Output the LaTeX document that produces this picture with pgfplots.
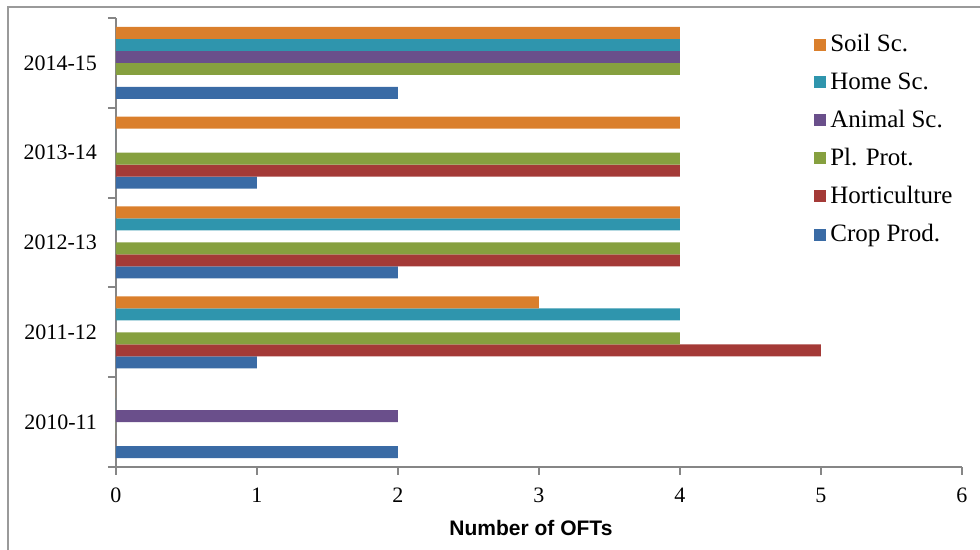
\documentclass[border=0pt]{standalone}
\usepackage{pgfplots}
\pgfplotsset{compat=1.18}
\usepackage{fontspec}
\setmainfont{Liberation Serif}
\setsansfont{Liberation Sans}
\definecolor{cCrop}{HTML}{3A6BA5}
\definecolor{cHort}{HTML}{A43A37}
\definecolor{cPl}{HTML}{86A03F}
\definecolor{cAnim}{HTML}{6A4F8B}
\definecolor{cHome}{HTML}{2F95AD}
\definecolor{cSoil}{HTML}{DA7F2C}
\definecolor{axgray}{HTML}{868686}
\definecolor{framegray}{HTML}{9A9A9A}
\begin{document}
\begin{tikzpicture}
\begin{axis}[
  at={(58pt,41.5pt)}, anchor=south west,
  scale only axis, width=423pt, height=224.5pt,
  xmin=0, xmax=6, ymin=-0.5, ymax=4.5,
  axis x line*=bottom, axis y line*=left,
  axis line style={draw=axgray, line width=1pt, -},
  xtick={0,1,2,3,4,5,6},
  ytick={-0.5,0.5,1.5,2.5,3.5,4.5},
  yticklabels={},
  extra y ticks={0,1,2,3,4},
  extra y tick labels={2010-11,2011-12,2012-13,2013-14,2014-15},
  extra y tick style={major tick length=0pt, tick style={draw=none}},
  tick align=outside,
  major tick length=4pt,
  tick style={draw=axgray, line width=1pt},
  /pgf/number format/assume math mode=true,
  ticklabel style={font=\fontsize{11}{13}\selectfont},
  xticklabel style={yshift=-3pt},
  yticklabel style={xshift=-6pt},
  xlabel={Number of OFTs},
  xlabel style={font=\sffamily\bfseries\fontsize{10.5}{12}\selectfont, at={(axis description cs:0.4905,0)}, anchor=center, yshift=-30.5pt},
  xbar,
  bar width=6pt,
  reverse legend,
  legend cell align=left,
  legend image code/.code={\fill[#1] (0pt,-3pt) rectangle (6pt,3pt);},
  legend style={at={(0.825,0.973)}, anchor=north west, draw=none, fill=none, inner sep=0pt, row sep=4.9pt, font=\fontsize{12.5}{14}\selectfont},
]
\addplot[bar shift=-15pt, fill=cCrop, draw=none] coordinates {(2,0) (1,1) (2,2) (1,3) (2,4)};
\addlegendentry{Crop Prod.}
\addplot[bar shift=-9pt, fill=cHort, draw=none] coordinates {(0,0) (5,1) (4,2) (4,3) (0,4)};
\addlegendentry{Horticulture}
\addplot[bar shift=-3pt, fill=cPl, draw=none] coordinates {(0,0) (4,1) (4,2) (4,3) (4,4)};
\addlegendentry{Pl. Prot.}
\addplot[bar shift=3pt, fill=cAnim, draw=none] coordinates {(2,0) (0,1) (0,2) (0,3) (4,4)};
\addlegendentry{Animal Sc.}
\addplot[bar shift=9pt, fill=cHome, draw=none] coordinates {(0,0) (4,1) (4,2) (0,3) (4,4)};
\addlegendentry{Home Sc.}
\addplot[bar shift=15pt, fill=cSoil, draw=none] coordinates {(0,0) (3,1) (4,2) (4,3) (4,4)};
\addlegendentry{Soil Sc.}
\end{axis}
\draw[framegray, line width=1pt] (4pt,-5pt) -- (4pt,271.5pt) -- (495pt,271.5pt);
\pgfresetboundingbox
\useasboundingbox (0,0) rectangle (490pt,275pt);
\end{tikzpicture}
\end{document}
